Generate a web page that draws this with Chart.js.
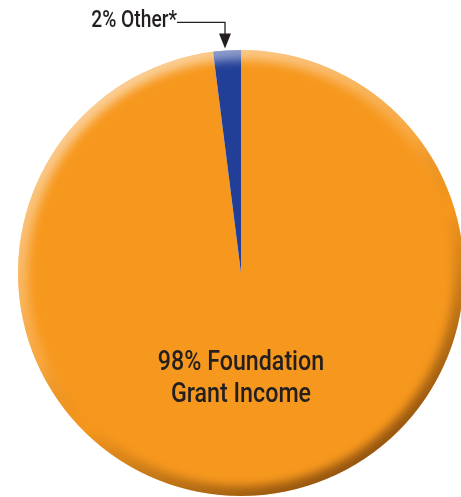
<!DOCTYPE html>
<html>
<head>
<meta charset="utf-8">
<script src="https://cdn.jsdelivr.net/npm/chart.js@4"></script>
<style>
  html, body { margin: 0; padding: 0; background: #fff; overflow: hidden; width: 461px; height: 497px; }
  #wrap { position: absolute; left: 0; top: 0; width: 464px; height: 497px; }
</style>
</head>
<body>
<div id="wrap"><canvas id="pie"></canvas></div>
<script>
const categories = ['Foundation Grant Income', 'Other*'];
const percents = [98, 2];
const labelLines = [['98% Foundation', 'Grant Income'], ['2% Other*']];
const sliceColors = ['#F7981E', '#223F98'];

// draw text squeezed sideways, like a condensed face
function narrowText(ctx, text, x, y, squeeze) {
  ctx.save();
  ctx.translate(x, y);
  ctx.scale(squeeze, 1);
  ctx.fillText(text, 0, 0);
  ctx.restore();
}

// rim light / shadow over the pie
const shadePlugin = {
  id: 'shade',
  afterDatasetsDraw(chart) {
    const arc = chart.getDatasetMeta(0).data[0];
    const { x, y, outerRadius } = arc.getProps(['x', 'y', 'outerRadius'], true);
    const ctx = chart.ctx;
    ctx.save();
    ctx.beginPath();
    ctx.arc(x, y, outerRadius, 0, Math.PI * 2);
    ctx.clip();
    const g = ctx.createLinearGradient(x - outerRadius * 0.6, y - outerRadius, x + outerRadius * 0.6, y + outerRadius);
    g.addColorStop(0, 'rgba(255,255,255,0.6)');
    g.addColorStop(0.45, 'rgba(255,255,255,0.15)');
    g.addColorStop(0.6, 'rgba(0,0,0,0.0)');
    g.addColorStop(1, 'rgba(60,20,0,0.6)');
    ctx.filter = 'blur(5px)';
    ctx.strokeStyle = g;
    ctx.lineWidth = 20;
    ctx.beginPath();
    ctx.arc(x, y, outerRadius, 0, Math.PI * 2);
    ctx.stroke();
    ctx.restore();
  }
};

// slice labels, the small one with a leader arrow
const labelPlugin = {
  id: 'sliceLabels',
  afterDraw(chart) {
    const ctx = chart.ctx;
    const meta = chart.getDatasetMeta(0);
    const big = meta.data[0].getProps(['x', 'y', 'outerRadius'], true);
    ctx.save();
    ctx.fillStyle = '#231f20';
    ctx.textAlign = 'center';
    ctx.textBaseline = 'alphabetic';
    ctx.font = '500 28px Roboto, sans-serif';
    labelLines[0].forEach((line, i) => {
      narrowText(ctx, line, big.x, big.y + 97 + i * 32, 0.83);
    });

    const small = meta.data[1].getProps(['x', 'y', 'startAngle', 'endAngle', 'outerRadius'], true);
    const mid = (small.startAngle + small.endAngle) / 2;
    const tipX = small.x + Math.cos(mid) * small.outerRadius - 2;
    const tipY = small.y + Math.sin(mid) * small.outerRadius - 2;
    const lineY = tipY - 26;
    ctx.font = '500 24px Roboto, sans-serif';
    ctx.textAlign = 'right';
    const textRight = tipX - 48;
    narrowText(ctx, labelLines[1][0], textRight, lineY + 5, 0.8);
    ctx.strokeStyle = '#231f20';
    ctx.lineWidth = 1.3;
    ctx.beginPath();
    ctx.moveTo(textRight, lineY);
    ctx.lineTo(tipX, lineY);
    ctx.lineTo(tipX, tipY - 10);
    ctx.stroke();
    ctx.beginPath();
    ctx.moveTo(tipX - 6, tipY - 15);
    ctx.lineTo(tipX + 6, tipY - 15);
    ctx.lineTo(tipX, tipY);
    ctx.closePath();
    ctx.fill();
    ctx.restore();
  }
};

new Chart(document.getElementById('pie'), {
  type: 'pie',
  data: {
    labels: categories,
    datasets: [{
      data: percents,
      backgroundColor: sliceColors,
      borderWidth: 0
    }]
  },
  options: {
    responsive: true,
    maintainAspectRatio: false,
    animation: false,
    layout: { padding: { left: 18, right: 0, top: 50, bottom: 1 } },
    plugins: {
      legend: { display: false },
      tooltip: { enabled: false }
    }
  },
  plugins: [shadePlugin, labelPlugin]
});
</script>
</body>
</html>
